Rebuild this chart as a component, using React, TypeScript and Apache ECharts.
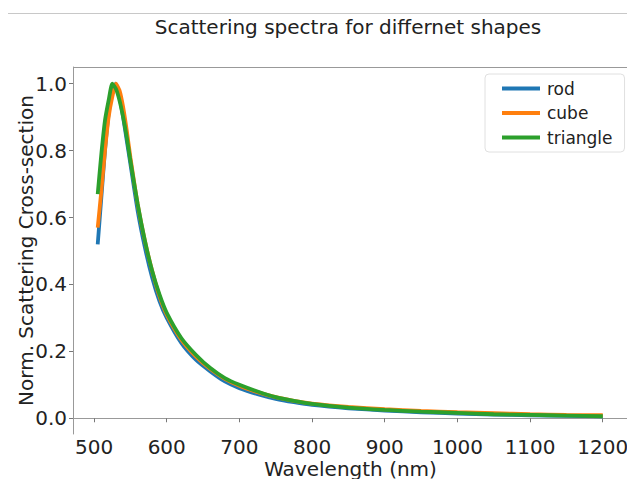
import React, { useEffect, useRef } from "react";
import * as echarts from "echarts";

const wavelengths = [505, 510, 515, 520, 525, 530, 535, 540, 545, 550, 560, 570, 580, 590, 600, 620, 640, 660, 680, 700, 725, 750, 775, 800, 850, 900, 950, 1000, 1050, 1100, 1150, 1200];
const rod = [0.52, 0.66, 0.8, 0.91, 0.98, 1.0, 0.96, 0.9, 0.83, 0.76, 0.62, 0.51, 0.42, 0.35, 0.3, 0.225, 0.175, 0.14, 0.11, 0.09, 0.072, 0.058, 0.048, 0.04, 0.03, 0.023, 0.018, 0.014, 0.011, 0.009, 0.007, 0.006];
const cube = [0.57, 0.68, 0.8, 0.9, 0.96, 1.0, 0.98, 0.93, 0.86, 0.78, 0.64, 0.53, 0.44, 0.365, 0.31, 0.235, 0.185, 0.147, 0.118, 0.097, 0.078, 0.063, 0.052, 0.044, 0.034, 0.027, 0.022, 0.018, 0.015, 0.012, 0.01, 0.009];
const triangle = [0.67, 0.79, 0.89, 0.95, 1.0, 0.985, 0.95, 0.9, 0.84, 0.77, 0.64, 0.53, 0.44, 0.37, 0.315, 0.24, 0.19, 0.15, 0.12, 0.1, 0.08, 0.063, 0.052, 0.043, 0.032, 0.025, 0.02, 0.016, 0.012, 0.01, 0.008, 0.006];
const xTicks = [500, 600, 700, 800, 900, 1000, 1100, 1200];
const yTicks = [0, 0.2, 0.4, 0.6, 0.8, 1.0];

const FONT = "DejaVu Sans";

export default function App() {
  const ref = useRef<HTMLDivElement>(null);
  useEffect(() => {
    const chart = echarts.init(ref.current!, null, { renderer: "svg" });
    const mk = (name: string, vals: number[], color: string) => ({
      name,
      type: "line",
      data: wavelengths.map((w, i) => [w, vals[i]]),
      showSymbol: false,
      smooth: 0.2,
      lineStyle: { color, width: 3.8 },
      itemStyle: { color },
    });
    chart.setOption({
      animation: false,
      backgroundColor: "#fff",
      title: {
        text: "Scattering spectra for differnet shapes",
        left: 343,
        top: 12,
        textAlign: "center",
        textStyle: { fontFamily: FONT, fontSize: 20, fontWeight: "normal", color: "#222" },
      },
      graphic: [
        { type: "line", shape: { x1: 8, y1: 13.5, x2: 627, y2: 13.5 }, style: { stroke: "#c8c8c8", lineWidth: 1 } },
        { type: "line", shape: { x1: 73, y1: 67.5, x2: 627, y2: 67.5 }, style: { stroke: "#999", lineWidth: 1 } },
      ],
      legend: {
        left: 485,
        top: 74,
        orient: "vertical",
        icon: "rect",
        itemWidth: 38,
        itemHeight: 4,
        itemGap: 7.5,
        padding: [6, 12, 6, 17],
        backgroundColor: "#fff",
        borderColor: "#e0e0e0",
        borderWidth: 1,
        borderRadius: 4,
        textStyle: { fontFamily: FONT, fontSize: 17, color: "#222", padding: [0, 0, 0, 2] },
        data: ["rod", "cube", "triangle"],
      },
      grid: { left: 73, top: 67, right: -1, bottom: 45, containLabel: false, outerBoundsMode: "none" },
      xAxis: {
        type: "value",
        min: 471,
        max: 1234.75,
        name: "Wavelength (nm)",
        nameLocation: "middle",
        nameGap: 26,
        nameMoveOverlap: false,
        nameTextStyle: { fontFamily: FONT, fontSize: 20, color: "#222", lineHeight: 18 },
        axisLine: { show: true, lineStyle: { color: "#999", width: 1 } },
        axisTick: { show: true, customValues: xTicks, length: 4, lineStyle: { color: "#777" } },
        axisLabel: {
          customValues: xTicks,
          fontFamily: FONT,
          fontSize: 20,
          lineHeight: 18,
          color: "#222",
          margin: 4,
          formatter: (v: number) => String(v),
        },
        splitLine: { show: false },
      },
      yAxis: {
        type: "value",
        min: -0.047,
        max: 1.05,
        name: "Norm. Scattering Cross-section",
        nameLocation: "middle",
        nameGap: 37,
        nameMoveOverlap: false,
        nameTextStyle: { fontFamily: FONT, fontSize: 20, color: "#222" },
        axisLine: { show: true, lineStyle: { color: "#999", width: 1 } },
        axisTick: { show: true, customValues: yTicks, length: 4, lineStyle: { color: "#777" } },
        axisLabel: {
          customValues: yTicks,
          fontFamily: FONT,
          fontSize: 20,
          color: "#222",
          margin: 6,
          formatter: (v: number) => v.toFixed(1),
        },
        splitLine: { show: false },
      },
      series: [mk("rod", rod, "#1f77b4"), mk("cube", cube, "#ff7f0e"), mk("triangle", triangle, "#2ca02c")],
    });
    return () => chart.dispose();
  }, []);
  return <div ref={ref} style={{ position: "fixed", left: 0, top: 0, width: 627, height: 479 }} />;
}
